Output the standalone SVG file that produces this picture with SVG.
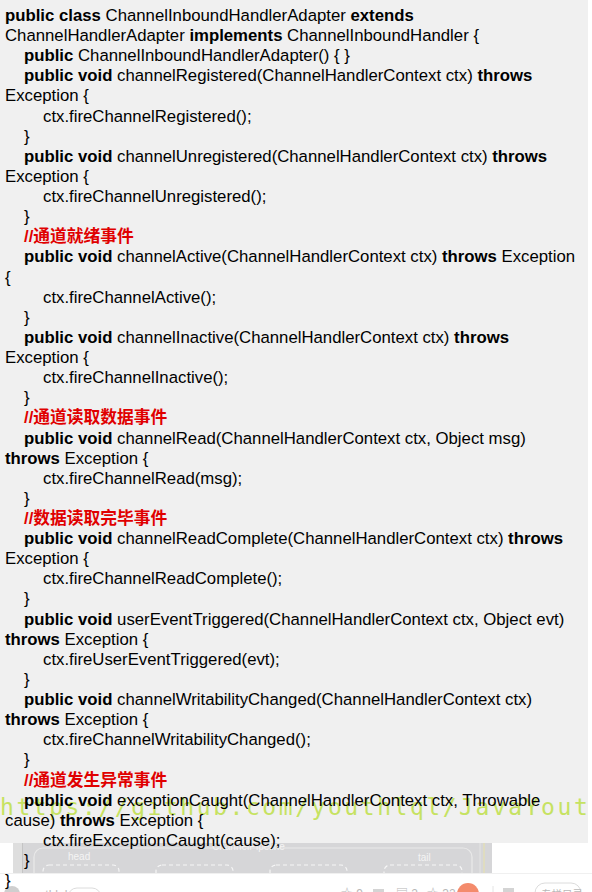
<svg xmlns="http://www.w3.org/2000/svg" width="592" height="892" viewBox="0 0 592 892">
<defs>
<style>
.t{font-family:"Liberation Sans","Noto Sans CJK SC",sans-serif;font-size:16.75px;fill:#000}
.b{font-weight:bold}
.c{font-weight:bold;fill:#e00000}
.wm{font-family:"DejaVu Sans Mono",monospace;font-size:23px;letter-spacing:2.55px;fill:#c4e25a;opacity:.95}
.faint{font-family:"Liberation Sans","Noto Sans CJK SC",sans-serif;font-size:10px;fill:#f4f4f4}
.bar{font-family:"Liberation Sans","Noto Sans CJK SC",sans-serif;font-size:12px;fill:#b8b8b8}
.dash{fill:none;stroke:#f6f6f6;stroke-width:1.2;stroke-dasharray:4 3}
</style>
<clipPath id="boxclip"><rect x="13" y="843" width="479" height="30"/></clipPath>
</defs>
<rect x="0" y="0" width="592" height="892" fill="#ffffff"/>
<rect id="code-bg" x="0" y="0" width="588" height="843" fill="#f0f0f0"/>

<g id="pipeline-image" clip-path="url(#boxclip)">
<rect x="13" y="843" width="479" height="30" fill="#d6d6d8"/>
<rect x="13" y="843" width="9" height="30" fill="#dedede"/>
<line x1="22.5" y1="843" x2="22.5" y2="873" stroke="#c4c4c4"/>
<rect x="34" y="848" width="438" height="45" rx="9" fill="none" stroke="#e9e9e9" stroke-width="1.2"/>
<line x1="480" y1="843" x2="480" y2="873" stroke="#e4e4e4"/>
<line x1="484" y1="843" x2="484" y2="873" stroke="#e8e2a8"/>
<text class="faint" x="68" y="860">head</text>
<text class="faint" x="212" y="850">ChannelPipeline</text>
<text class="faint" x="418" y="861">tail</text>
<rect class="dash" x="43" y="865" width="76" height="22" rx="6"/>
<rect class="dash" x="156" y="865" width="77" height="22" rx="6"/>
<rect class="dash" x="270" y="865" width="77" height="22" rx="6"/>
<rect class="dash" x="384" y="865" width="78" height="22" rx="6"/>
</g>

<g id="bottom-bar">
<line x1="0" y1="873.5" x2="592" y2="873.5" stroke="#f0f0f0"/>
<circle cx="12" cy="894" r="8" fill="#cfcfcf"/>
<text class="bar" x="26" y="899">youthlql</text>
<rect x="68" y="888" width="33" height="18" rx="9" fill="none" stroke="#dcdcdc"/>
<text class="bar" x="75" y="901" style="font-size:10px">关注</text>
<text class="bar" x="341" y="898">☆ 9</text>
<rect x="373" y="889" width="11" height="9" fill="#d4d4d4"/>
<text class="bar" x="396" y="898">▤ 2</text>
<text class="bar" x="427" y="898">☆ 32</text>
<circle cx="468" cy="894" r="11" fill="#f48b6c"/>
<line x1="493" y1="886" x2="493" y2="892" stroke="#e4e4e4"/>
<rect x="503" y="888" width="11" height="9" fill="#d4d4d4"/>
<rect x="535" y="883" width="46" height="20" rx="10" fill="none" stroke="#dcdcdc"/>
<text class="bar" x="541" y="898" style="font-size:10.5px">专栏目录</text>
</g>

<text id="watermark" class="wm" x="0" y="815">https://github.com/youthlql/JavaYout</text>

<g id="class-header">
<text class="t" x="5" y="21"><tspan class="b">public class</tspan> ChannelInboundHandlerAdapter <tspan class="b">extends</tspan></text>
<text class="t" x="5" y="41.12">ChannelHandlerAdapter <tspan class="b">implements</tspan> ChannelInboundHandler {</text>
<text class="t" x="24" y="61.24"><tspan class="b">public</tspan> ChannelInboundHandlerAdapter() { }</text>
</g>

<g id="method-channelRegistered">
<text class="t" x="24" y="81.36"><tspan class="b">public void</tspan> channelRegistered(ChannelHandlerContext ctx) <tspan class="b">throws</tspan></text>
<text class="t" x="5" y="101.48">Exception {</text>
<text class="t" x="43" y="121.6">ctx.fireChannelRegistered();</text>
<text class="t" x="24" y="141.72">}</text>
</g>

<g id="method-channelUnregistered">
<text class="t" x="24" y="161.84"><tspan class="b">public void</tspan> channelUnregistered(ChannelHandlerContext ctx) <tspan class="b">throws</tspan></text>
<text class="t" x="5" y="181.96">Exception {</text>
<text class="t" x="43" y="202.08">ctx.fireChannelUnregistered();</text>
<text class="t" x="24" y="222.2">}</text>
</g>

<g id="method-channelActive">
<text class="t c" x="24" y="242.32">//通道就绪事件</text>
<text class="t" x="24" y="262.44"><tspan class="b">public void</tspan> channelActive(ChannelHandlerContext ctx) <tspan class="b">throws</tspan> Exception</text>
<text class="t" x="5" y="282.56">{</text>
<text class="t" x="43" y="302.68">ctx.fireChannelActive();</text>
<text class="t" x="24" y="322.8">}</text>
</g>

<g id="method-channelInactive">
<text class="t" x="24" y="342.92"><tspan class="b">public void</tspan> channelInactive(ChannelHandlerContext ctx) <tspan class="b">throws</tspan></text>
<text class="t" x="5" y="363.04">Exception {</text>
<text class="t" x="43" y="383.16">ctx.fireChannelInactive();</text>
<text class="t" x="24" y="403.28">}</text>
</g>

<g id="method-channelRead">
<text class="t c" x="24" y="423.4">//通道读取数据事件</text>
<text class="t" x="24" y="443.52"><tspan class="b">public void</tspan> channelRead(ChannelHandlerContext ctx, Object msg)</text>
<text class="t" x="5" y="463.64"><tspan class="b">throws</tspan> Exception {</text>
<text class="t" x="43" y="483.76">ctx.fireChannelRead(msg);</text>
<text class="t" x="24" y="503.88">}</text>
</g>

<g id="method-channelReadComplete">
<text class="t c" x="24" y="524">//数据读取完毕事件</text>
<text class="t" x="24" y="544.12"><tspan class="b">public void</tspan> channelReadComplete(ChannelHandlerContext ctx) <tspan class="b">throws</tspan></text>
<text class="t" x="5" y="564.24">Exception {</text>
<text class="t" x="43" y="584.36">ctx.fireChannelReadComplete();</text>
<text class="t" x="24" y="604.48">}</text>
</g>

<g id="method-userEventTriggered">
<text class="t" x="24" y="624.6"><tspan class="b">public void</tspan> userEventTriggered(ChannelHandlerContext ctx, Object evt)</text>
<text class="t" x="5" y="644.72"><tspan class="b">throws</tspan> Exception {</text>
<text class="t" x="43" y="664.84">ctx.fireUserEventTriggered(evt);</text>
<text class="t" x="24" y="684.96">}</text>
</g>

<g id="method-channelWritabilityChanged">
<text class="t" x="24" y="705.08"><tspan class="b">public void</tspan> channelWritabilityChanged(ChannelHandlerContext ctx)</text>
<text class="t" x="5" y="725.2"><tspan class="b">throws</tspan> Exception {</text>
<text class="t" x="43" y="745.32">ctx.fireChannelWritabilityChanged();</text>
<text class="t" x="24" y="765.44">}</text>
</g>

<g id="method-exceptionCaught">
<text class="t c" x="24" y="785.56">//通道发生异常事件</text>
<text class="t" x="24" y="805.68"><tspan class="b">public void</tspan> exceptionCaught(ChannelHandlerContext ctx, Throwable</text>
<text class="t" x="5" y="825.8">cause) <tspan class="b">throws</tspan> Exception {</text>
<text class="t" x="43" y="845.92">ctx.fireExceptionCaught(cause);</text>
<text class="t" x="24" y="866.04">}</text>
</g>

<g id="class-end">
<text class="t" x="5" y="886.16">}</text>
</g>
</svg>
